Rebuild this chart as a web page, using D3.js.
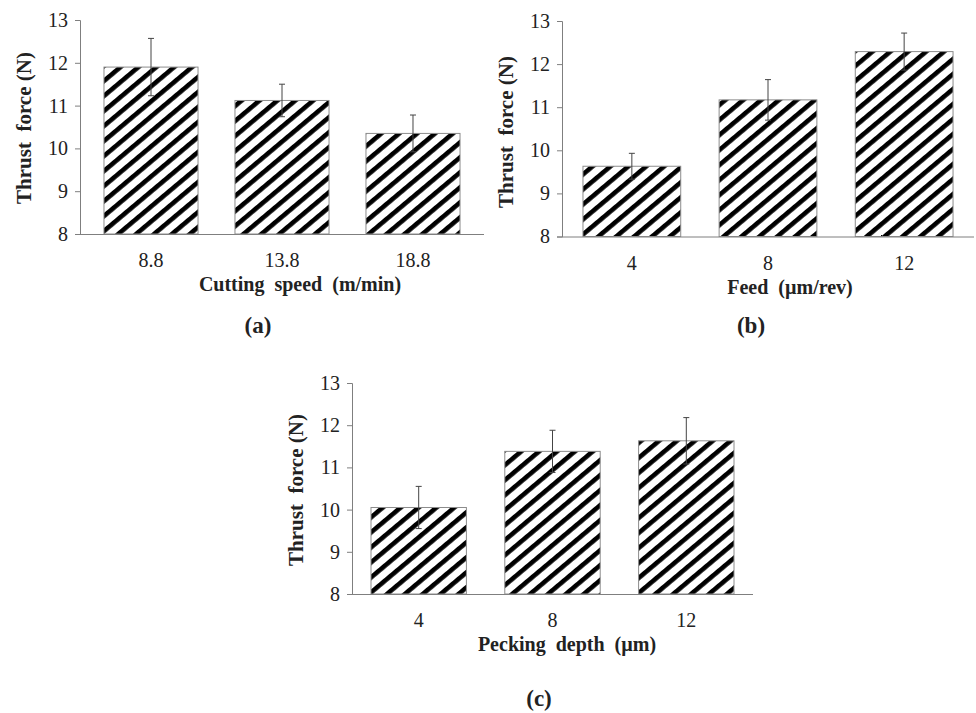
<!DOCTYPE html>
<html>
<head>
<meta charset="utf-8">
<script src="https://cdn.jsdelivr.net/npm/d3@7"></script>
<style>
  html, body { margin: 0; padding: 0; background: #fff; }
  svg text { font-family: "Liberation Serif", "Times New Roman", serif; white-space: pre; }
</style>
</head>
<body>
<svg id="chart" width="976" height="713"></svg>
<script>
// ---------- data ----------
const yTicks = [8, 9, 10, 11, 12, 13];

const speedCategories = ["8.8", "13.8", "18.8"];
const speedValues = [11.9, 11.12, 10.35];
const speedErrors = [0.67, 0.38, 0.43];

const feedCategories = ["4", "8", "12"];
const feedValues = [9.63, 11.17, 12.29];
const feedErrors = [0.30, 0.47, 0.43];

const depthCategories = ["4", "8", "12"];
const depthValues = [10.05, 11.38, 11.63];
const depthErrors = [0.50, 0.50, 0.55];

const yLabel = "Thrust  force (N)";

// ---------- layout ----------
const panels = [
  { cats: speedCategories, vals: speedValues, errs: speedErrors,
    xLabel: "Cutting  speed  (m/min)", tag: "(a)",
    x0: 80, x1: 484, yTop: 20, yBot: 234, pIn: 0.282, pOut: 0.183,
    xLabelX: 300, yLabelY: 128, tagX: 258, tagY: 333 },
  { cats: feedCategories, vals: feedValues, errs: feedErrors,
    xLabel: "Feed  (\u00b5m/rev)", tag: "(b)",
    x0: 562, x1: 974, yTop: 21, yBot: 236.5, pIn: 0.282, pOut: 0.154,
    xLabelX: 790, yLabelY: 132, tagX: 751, tagY: 333 },
  { cats: depthCategories, vals: depthValues, errs: depthErrors,
    xLabel: "Pecking  depth  (\u00b5m)", tag: "(c)",
    x0: 352, x1: 753, yTop: 383, yBot: 594, pIn: 0.287, pOut: 0.142,
    xLabelX: 567, yLabelY: 490, tagX: 539, tagY: 706 }
];

const svg = d3.select("#chart");

// hatch pattern
const defs = svg.append("defs");
const pat = defs.append("pattern")
  .attr("id", "hatch")
  .attr("patternUnits", "userSpaceOnUse")
  .attr("width", 11.5).attr("height", 11.5)
  .attr("patternTransform", "rotate(50)");
pat.append("rect").attr("width", 11.5).attr("height", 11.5).attr("fill", "#fff");
pat.append("rect").attr("x", 0).attr("y", 0).attr("width", 4.6).attr("height", 11.5).attr("fill", "#000");

const axisColor = "#7f7f7f";

panels.forEach(p => {
  const g = svg.append("g");
  const x = d3.scaleBand().domain(p.cats).range([p.x0, p.x1])
    .paddingInner(p.pIn).paddingOuter(p.pOut);
  const y = d3.scaleLinear().domain([8, 13]).range([p.yBot, p.yTop]);

  // bars
  g.selectAll("rect.bar").data(p.cats).join("rect")
    .attr("class", "bar")
    .attr("x", d => x(d))
    .attr("width", x.bandwidth())
    .attr("y", (d, i) => y(p.vals[i]))
    .attr("height", (d, i) => y(8) - y(p.vals[i]))
    .attr("fill", "url(#hatch)")
    .attr("stroke", "#8c8c8c")
    .attr("stroke-width", 1);

  // error bars
  const eb = g.selectAll("g.err").data(p.cats).join("g").attr("class", "err");
  const cx = d => x(d) + x.bandwidth() / 2;
  eb.append("line")
    .attr("x1", cx).attr("x2", cx)
    .attr("y1", (d, i) => y(p.vals[i] + p.errs[i]))
    .attr("y2", (d, i) => y(p.vals[i] - p.errs[i]))
    .attr("stroke", "#444").attr("stroke-width", 1);
  eb.append("line")
    .attr("x1", d => cx(d) - 3).attr("x2", d => cx(d) + 3)
    .attr("y1", (d, i) => y(p.vals[i] + p.errs[i]))
    .attr("y2", (d, i) => y(p.vals[i] + p.errs[i]))
    .attr("stroke", "#444").attr("stroke-width", 1);
  eb.append("line")
    .attr("x1", d => cx(d) - 3).attr("x2", d => cx(d) + 3)
    .attr("y1", (d, i) => y(p.vals[i] - p.errs[i]))
    .attr("y2", (d, i) => y(p.vals[i] - p.errs[i]))
    .attr("stroke", "#444").attr("stroke-width", 1);

  // y axis
  const yAxis = d3.axisLeft(y).tickValues(yTicks).tickSize(5).tickPadding(7).tickFormat(d3.format("d"));
  const ya = g.append("g").attr("transform", `translate(${p.x0},0)`).call(yAxis);
  ya.select(".domain").attr("stroke", axisColor);
  ya.selectAll(".tick line").attr("stroke", axisColor);
  ya.selectAll(".tick text").attr("font-size", 20).attr("fill", "#222");

  // x axis
  const xAxis = d3.axisBottom(x).tickSize(0).tickPadding(19);
  const xa = g.append("g").attr("transform", `translate(0,${p.yBot})`).call(xAxis);
  xa.select(".domain").attr("stroke", axisColor).attr("d", `M${p.x0},0.5H${p.x1}`);
  xa.selectAll(".tick text").attr("font-size", 20).attr("fill", "#222");

  // axis labels
  g.append("text")
    .attr("x", p.xLabelX).attr("y", p.yBot + 57)
    .attr("text-anchor", "middle")
    .attr("font-weight", "bold").attr("font-size", 20).attr("fill", "#222")
    .text(p.xLabel);
  g.append("text")
    .attr("transform", `translate(${p.x0 - 49},${p.yLabelY}) rotate(-90)`)
    .attr("text-anchor", "middle")
    .attr("font-weight", "bold").attr("font-size", 21).attr("fill", "#222")
    .text(yLabel);
  g.append("text")
    .attr("x", p.tagX).attr("y", p.tagY)
    .attr("text-anchor", "middle")
    .attr("font-weight", "bold").attr("font-size", 23).attr("fill", "#222")
    .text(p.tag);
});
</script>
</body>
</html>
